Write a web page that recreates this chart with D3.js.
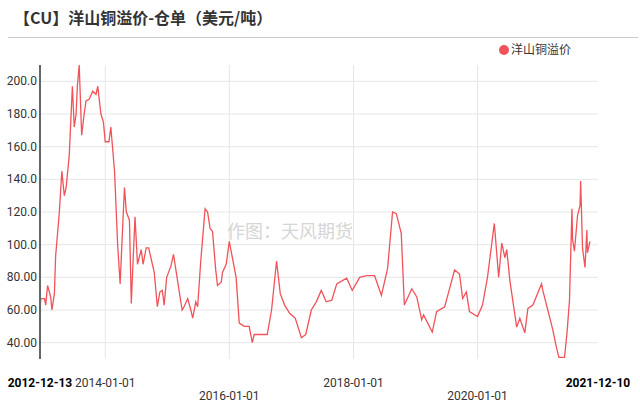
<!DOCTYPE html>
<html><head><meta charset="utf-8">
<script src="https://cdn.jsdelivr.net/npm/d3@7"></script>
<style>body{margin:0;background:#fff}svg{font-family:"Noto Sans CJK SC","Noto Sans",sans-serif}</style>
</head><body><svg id="c" width="640" height="417"></svg>
<script>
const title = "【CU】洋山铜溢价-仓单（美元/吨）";
const seriesName = "洋山铜溢价";
const watermark = "作图：天风期货";
const yTicks = [40,60,80,100,120,140,160,180,200];
const xTickDates = ["2014-01-01","2016-01-01","2018-01-01","2020-01-01"];
const startLabel = "2012-12-13", endLabel = "2021-12-10";
const years = [2012.95,2012.96,2013.02,2013.04,2013.07,2013.12,2013.14,2013.18,2013.20,2013.26,2013.30,2013.34,2013.37,2013.42,2013.47,2013.50,2013.53,2013.55,2013.58,2013.62,2013.66,2013.69,2013.74,2013.80,2013.85,2013.88,2013.90,2013.93,2013.97,2014.00,2014.06,2014.09,2014.15,2014.20,2014.24,2014.28,2014.31,2014.34,2014.39,2014.42,2014.46,2014.48,2014.52,2014.58,2014.61,2014.66,2014.70,2014.76,2014.79,2014.84,2014.88,2014.92,2014.95,2014.99,2015.06,2015.10,2015.15,2015.19,2015.24,2015.27,2015.33,2015.38,2015.41,2015.46,2015.49,2015.54,2015.61,2015.65,2015.69,2015.73,2015.78,2015.81,2015.87,2015.89,2015.95,2016.00,
2016.11,2016.16,2016.24,2016.32,2016.37,2016.40,2016.61,2016.68,2016.76,2016.82,2016.89,2016.97,2017.06,2017.16,2017.23,2017.32,2017.40,2017.48,2017.56,2017.65,2017.73,2017.89,2017.98,2018.10,2018.21,2018.34,2018.45,2018.55,2018.63,2018.69,2018.77,2018.82,2018.94,2019.02,2019.10,2019.13,2019.27,2019.34,2019.47,2019.52,2019.63,2019.71,2019.76,2019.82,2019.87,2020.00,2020.08,2020.16,2020.27,2020.34,2020.39,2020.44,2020.47,2020.52,2020.63,2020.68,2020.76,2020.81,2020.89,2021.03,2021.05,2021.21,2021.27,2021.31,2021.40,2021.44,2021.48,2021.52,2021.53,2021.56,2021.61,2021.65,2021.66,2021.69,2021.73,2021.76,2021.77,2021.81];
const values = [60,67,67,63,75,68,60,70,93,120,145,130,135,155,197,172,180,197,210,167,180,188,189,194,192,197,190,180,175,163,163,172,145,100,76,110,135,120,115,64,100,117,88,97,88,98,98,88,83,62,71,72,63,80,87,94,82,72,60,62,67,60,55,65,62,90,122,120,110,108,85,75,77,83,88,102,
80,52,50,50,40,45,45,60,90,70,63,58,55,43,45,60,65,72,65,66,76,79.5,72,80,81,81,69,85.5,120,119,107,63,73,68,54,57,46.5,59,62,69,84.5,82,67,71,59,56,63,80,113,80,101,92,97,78,49.5,55,46,61,63,76,72,48,37,31,31,46,66,122,103,96,118,124,139,98,86,109,95,102];

const svg = d3.select("#c");
const toDate = y => { const yr = Math.floor(y); const s = new Date(yr,0,1), e = new Date(yr+1,0,1); return new Date(+s + (y-yr)*(e-s)); };
const data = years.map((y,i)=>({d:toDate(y), v:values[i]}));
const x = d3.scaleTime().domain([new Date(2012,11,13), new Date(2021,11,10)]).range([40,598]);
const y = d3.scaleLinear().domain([30,210]).range([359,65]);

svg.append("text").attr("x",14).attr("y",24).attr("font-size",16).attr("font-weight","bold").attr("fill","#333").text(title);
svg.append("line").attr("x1",8).attr("x2",638).attr("y1",37.5).attr("y2",37.5).attr("stroke","#ccc");
svg.append("circle").attr("cx",504).attr("cy",50).attr("r",5).attr("fill","#f0535a");
svg.append("text").attr("x",511).attr("y",54).attr("font-size",12).attr("fill","#333").text(seriesName);

const g = svg.append("g");
g.selectAll(".hy").data(yTicks).join("line").attr("x1",40).attr("x2",598).attr("y1",d=>y(d)).attr("y2",d=>y(d)).attr("stroke","#e6e6e6");
g.selectAll(".vx").data(xTickDates).join("line").attr("x1",d=>x(new Date(d))).attr("x2",d=>x(new Date(d))).attr("y1",65).attr("y2",359).attr("stroke","#e6e6e6");
g.selectAll(".yl").data(yTicks).join("text").attr("x",37).attr("y",d=>y(d)+4).attr("text-anchor","end").attr("font-size",12).attr("fill","#333").attr("font-family","Roboto, sans-serif").text(d3.format(".4r")); 

svg.append("text").attr("x",290).attr("y",238).attr("text-anchor","middle").attr("font-size",18).attr("fill","#ccc").attr("opacity",0.8).text(watermark);

svg.append("path").datum(data).attr("fill","none").attr("stroke","#f0535a").attr("stroke-width",1.3)
  .attr("d", d3.line().x(d=>x(d.d)).y(d=>y(Math.max(30,d.v))));

svg.append("line").attr("x1",40).attr("x2",40).attr("y1",65).attr("y2",359).attr("stroke","#666").attr("stroke-width",2);
g.selectAll(".xl").data(xTickDates).join("text").attr("x",d=>x(new Date(d))).attr("y",(d,i)=>i%2? 400:387).attr("text-anchor","middle").attr("font-size",12).attr("fill","#333").attr("font-family","Roboto, sans-serif").text(d=>d);
svg.append("text").attr("x",40).attr("y",387).attr("text-anchor","middle").attr("font-size",12).attr("font-weight","bold").attr("fill","#000").attr("font-family","Roboto, sans-serif").text(startLabel);
svg.append("text").attr("x",598).attr("y",387).attr("text-anchor","middle").attr("font-size",12).attr("font-weight","bold").attr("fill","#000").attr("font-family","Roboto, sans-serif").text(endLabel);
</script></body></html>
